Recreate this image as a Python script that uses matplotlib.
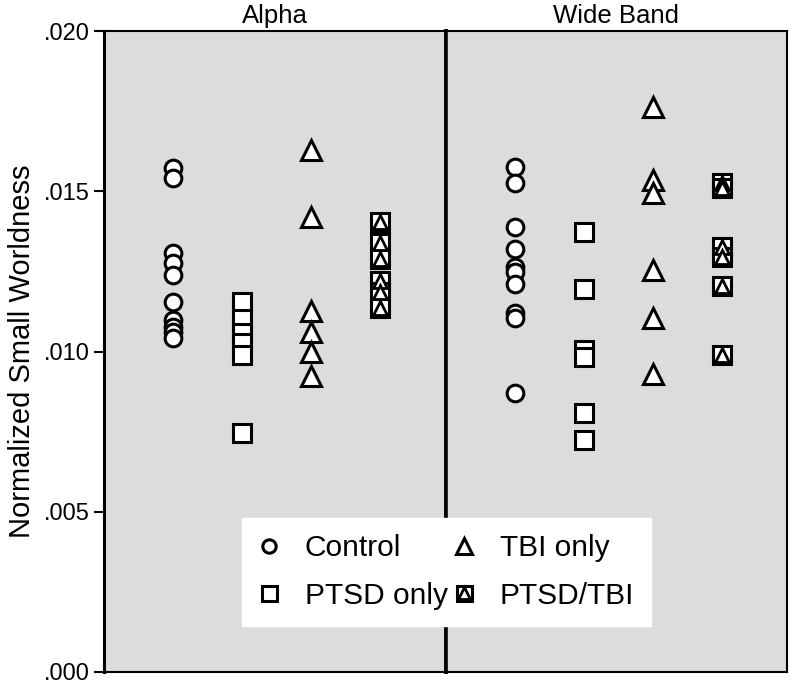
import matplotlib
matplotlib.use("Agg")
import matplotlib.pyplot as plt
from matplotlib.legend_handler import HandlerTuple

plt.rcParams['font.family'] = ['Liberation Sans', 'DejaVu Sans']

# values (normalized small worldness)
panels = ["Alpha", "Wide Band"]
groups = ["Control", "PTSD only", "TBI only", "PTSD/TBI"]

alpha_control = [0.01572, 0.01541, 0.01306, 0.01275, 0.01240, 0.01153, 0.01097, 0.01075, 0.01060, 0.01042]
alpha_ptsd = [0.01153, 0.01100, 0.01059, 0.01025, 0.00990, 0.00747]
alpha_tbi = [0.01630, 0.01420, 0.01125, 0.01060, 0.00997, 0.00925]
alpha_both = [0.01405, 0.01340, 0.01290, 0.01220, 0.01185, 0.01135]

wide_control = [0.01575, 0.01525, 0.01388, 0.01319, 0.01263, 0.01247, 0.01212, 0.01119, 0.01106, 0.00872]
wide_ptsd = [0.01372, 0.01194, 0.01006, 0.00984, 0.00809, 0.00725]
wide_tbi = [0.01762, 0.01534, 0.01494, 0.01253, 0.01103, 0.00931]
wide_both = [0.01525, 0.01510, 0.01325, 0.01294, 0.01203, 0.00990]

yticks = [0.000, 0.005, 0.010, 0.015, 0.020]
ytick_labels = [".000", ".005", ".010", ".015", ".020"]

data = [[alpha_control, alpha_ptsd, alpha_tbi, alpha_both],
        [wide_control, wide_ptsd, wide_tbi, wide_both]]

bg = '#dcdcdc'
ew = 2.2

fig = plt.figure(figsize=(7.93, 6.85), dpi=100)
axes = [fig.add_axes([0.1311, 0.019, 0.4312, 0.9357]),
        fig.add_axes([0.5623, 0.019, 0.4301, 0.9357])]

handles = {}
for p, ax in enumerate(axes):
    ax.set_facecolor(bg)
    vals = data[p]
    h1, = ax.plot([1] * len(vals[0]), vals[0], 'o', ms=12, mfc='white', mec='black', mew=ew, ls='none')
    h2, = ax.plot([2] * len(vals[1]), vals[1], 's', ms=13.5, mfc='white', mec='black', mew=ew, ls='none')
    h3, = ax.plot([3] * len(vals[2]), vals[2], '^', ms=14, mfc='white', mec='black', mew=ew, ls='none')
    # PTSD/TBI = square with a triangle inside
    h4a, = ax.plot([4] * len(vals[3]), vals[3], 's', ms=13.5, mfc='white', mec='black', mew=ew, ls='none')
    h4b, = ax.plot([4] * len(vals[3]), vals[3], '^', ms=10, mfc='white', mec='black', mew=2.0, ls='none')
    handles = {"Control": h1, "PTSD only": h2, "TBI only": h3, "PTSD/TBI": (h4a, h4b)}

    ax.set_xlim(0, 4.95)
    ax.set_ylim(0, 0.020)
    ax.set_xticks([])
    ax.set_title(panels[p], fontsize=18.5, pad=6)
    for s in ax.spines.values():
        s.set_linewidth(1.5)
    ax.spines['left'].set_linewidth(2.2)

axes[0].set_yticks(yticks)
axes[0].set_yticklabels(ytick_labels)
axes[0].tick_params(axis='y', labelsize=17, length=7, width=1.5, pad=3)
axes[0].set_ylabel("Normalized Small Worldness", fontsize=21, labelpad=6)
axes[1].set_yticks([])
axes[1].spines['left'].set_linewidth(2.6)
axes[0].spines['right'].set_linewidth(2.6)

order = ["Control", "PTSD only", "TBI only", "PTSD/TBI"]
leg = fig.legend([handles[k] for k in order], order, ncol=2,
                 loc='upper left', bbox_to_anchor=(0.3052, 0.2438),
                 borderaxespad=0,
                 fontsize=21.5, frameon=True, fancybox=False, framealpha=1,
                 facecolor='white', edgecolor='white', markerscale=0.8,
                 handlelength=0.7, handletextpad=0.85, columnspacing=0.2,
                 labelspacing=0.65, borderpad=0.55,
                 handler_map={tuple: HandlerTuple(ndivide=1)})

fig.savefig("out.png", dpi=100)
